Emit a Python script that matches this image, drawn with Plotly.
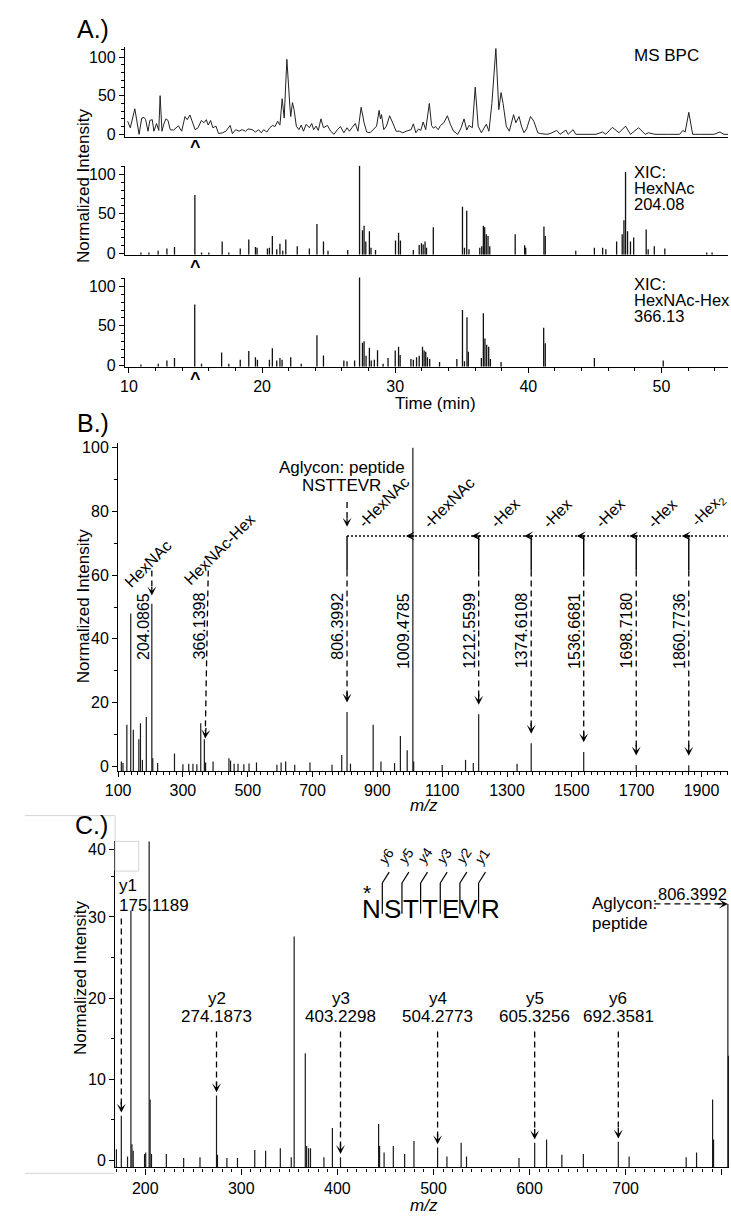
import plotly.graph_objects as go

W, H = 731, 1221
FONT = "Liberation Sans, Arial, Helvetica, sans-serif"


def PX(x):
    return x / W


def PY(y):
    return 1 - y / H


# ---------------- DATA ----------------
# Panel A: MS base peak chromatogram (time in min, normalized intensity)
BPC_TIME = [9.90, 10.10, 10.44, 10.64, 10.76, 10.96, 11.13, 11.25, 11.43, 11.57, 11.75, 11.87, 12.07, 12.24, 12.34,
            12.48, 12.61, 12.78, 12.93, 13.10, 13.35, 13.71, 13.96, 14.21, 14.38, 14.58, 14.77, 14.97, 15.19, 15.44,
            15.63, 15.81, 15.95, 16.13, 16.30, 16.54, 16.72, 17.04, 17.28, 17.60, 17.77, 18.02, 18.27, 18.51, 18.76,
            18.95, 19.25, 19.50, 19.74, 19.94, 20.11, 20.36, 20.60, 20.80, 20.97, 21.17, 21.34, 21.51, 21.66, 21.86,
            22.08, 22.15, 22.28, 22.40, 22.57, 22.77, 22.94, 23.11, 23.31, 23.55, 23.73, 23.87, 24.05, 24.22, 24.42,
            24.61, 24.91, 25.15, 25.40, 25.65, 25.89, 26.14, 26.38, 26.56, 26.75, 27.00, 27.20, 27.44, 27.66, 27.86,
            28.11, 28.35, 28.60, 28.79, 28.89, 28.97, 29.14, 29.34, 29.58, 29.83, 30.07, 30.32, 30.57, 30.82, 31.19,
            31.36, 31.55, 31.75, 31.92, 32.10, 32.29, 32.56, 32.73, 32.86, 33.03, 33.23, 33.40, 33.65, 33.92, 34.14,
            34.38, 34.70, 34.95, 35.17, 35.37, 35.54, 35.79, 36.01, 36.23, 36.47, 36.72, 36.84, 37.04, 37.26, 37.56,
            37.78, 37.95, 38.10, 38.34, 38.57, 38.89, 39.06, 39.30, 39.48, 39.67, 39.87, 40.16, 40.41, 40.71, 40.90,
            41.39, 41.64, 42.13, 42.38, 42.82, 42.99, 43.36, 43.56, 44.10, 45.08, 45.58, 45.82, 46.31, 46.81, 47.30,
            47.67, 48.28, 48.77, 49.02, 49.51, 50.50, 51.36, 51.60, 51.78, 52.05, 52.34, 52.96, 53.94, 54.39, 54.69,
            55.00]
BPC_INT = [17, 8.5, 33, 8.5, 0, 21, 22, 19, 4, 18, 19, 4, 14, 5, 50,
           4, 13, 20, 18, 6, 5.5, 11, 4, 23, 19, 25, 15, 6, 8.5, 18,
           15, 19, 12, 18, 8.5, 10.6, 1, 2, 4, 11.5, 1, 6, 4, 6, 4,
           7, 6, 3, 6, 2, 6, 3, 9, 11.5, 10, 17, 12, 46, 21, 97,
           38, 23, 41, 32, 10.6, 6, 12, 4, 13, 8.5, 14, 6, 10.6, 5, 20,
           8.5, 11.5, 4, 0, 6, 10, 2, 8.5, 4, 8.5, 14, 4, 35, 15, 3,
           2, 6, 10.6, 31, 20, 25.5, 6, 10.6, 24, 14, 4, 4, 2, 4, 6,
           13.6, 2, 7, 5, 16, 6, 40, 11.5, 8, 10, 6, 11.5, 15, 24, 13,
           4, 0, 8.5, 20, 5.5, 11.5, 8.5, 61, 10.6, 2, 8.5, 13, 4, 40, 111,
           32, 54, 40, 10.6, 4, 25.5, 15, 23, 10.6, 2, 7, 23, 17, 2, 1,
           0, 1, 5, 0, 5.5, 0, 6, 0, 0, 0, 3, 0, 9, 2, 10.6,
           0, 8.5, 0, 2, 0, 0, 0, 5, 3, 28.5, 0, 0, 0, 3, 0,
           0]

# Panel A: XIC HexNAc oxonium ion 204.08
XIC204_TIME = [10.9, 11.5, 12.19, 12.85, 13.42, 14.95, 15.45, 16.0, 17.0, 17.5, 18.36, 19.0, 19.5, 19.62, 20.4,
               20.55, 20.77, 21.1, 21.34, 21.55, 21.78, 22.64, 23.55, 24.12, 24.61, 24.95, 26.43, 27.32, 27.54,
               27.66, 27.79, 28.06, 28.18, 28.52, 30.02, 30.25, 30.39, 31.36, 31.8, 31.97, 32.1, 32.24, 32.35,
               32.86, 35.05, 35.2, 35.37, 35.54, 36.35, 36.5, 36.62, 36.72, 36.84, 36.97, 37.1, 39.01, 39.72,
               39.8, 41.17, 41.27, 43.56, 44.96, 45.58, 45.82, 46.63, 47.05, 47.18, 47.3, 47.45, 47.67, 47.91,
               48.85, 49.0, 49.46, 50.25, 53.4, 53.8]
XIC204_INT = [1, 1, 3, 6, 8, 74, 1, 1, 15, 1, 6, 17.5, 8, 7, 6,
              7, 22, 5, 12, 3, 17.5, 9, 6, 37, 15, 3, 4, 111, 29,
              35, 15, 28, 7, 4, 16, 26, 16, 4, 10.4, 12.5, 11, 15, 7,
              33, 59, 7, 54, 5, 7, 9, 35, 33, 24, 22, 9, 24, 10,
              7, 34, 22, 3, 7, 7, 5, 15, 24, 42, 103, 28, 15, 20,
              30, 5, 9, 6, 1, 1]

# Panel A: XIC HexNAc-Hex oxonium ion 366.13
XIC366_TIME = [10.9, 12.2, 12.85, 13.42, 14.94, 15.45, 16.96, 17.5, 18.36, 19.0, 19.5, 19.65, 20.55, 20.77, 21.1,
               21.34, 21.5, 22.15, 22.94, 24.12, 24.61, 26.14, 26.38, 26.95, 27.32, 27.54, 27.66, 27.81, 28.06,
               28.2, 28.43, 28.67, 29.09, 29.46, 30.0, 30.25, 30.37, 31.18, 31.36, 31.6, 31.8, 32.05, 32.17,
               32.29, 32.42, 32.59, 33.33, 34.63, 35.05, 35.2, 35.39, 35.49, 36.47, 36.62, 36.74, 36.87, 37.02,
               37.15, 37.95, 41.15, 41.27, 44.96, 50.13]
XIC366_INT = [1, 2, 6, 9, 77, 2, 16, 2, 7, 18, 10, 7, 7, 21.5, 6,
              9, 7, 10, 2, 38, 12.4, 6, 5, 6, 112, 28.5, 30.5, 12, 22,
              6, 7, 19, 2, 9, 18.6, 23.5, 13, 8, 7, 10, 12, 23.5, 18.6,
              17, 10, 8, 4, 8, 70, 5, 61, 17, 9, 66, 34, 26, 23.5,
              8, 4, 47.5, 28, 9, 6]

# Panel B: glycopeptide MS/MS spectrum
B_MZ = [110, 115, 127, 139, 147, 164, 169, 175, 187, 204.0865, 207, 222, 274, 300, 318, 331, 343, 355, 366.1398, 370,
        393, 442, 447, 458, 470, 488, 504, 527, 590, 603, 617, 645, 692, 760, 790, 806.3992, 817, 887, 911, 953,
        971, 992, 1009.4785, 1012, 1100, 1172, 1196, 1212.5599, 1331, 1374.6108, 1536.6681, 1698.7180, 1860.7736]
B_INT = [1.5, 1, 13, 48, 11.5, 8.5, 13.5, 2, 15.5, 51, 2.5, 1, 4, 0.6, 0.8, 0.8, 0.6, 13.5, 8.5, 1.2,
         1.5, 2.5, 1.8, 0.8, 0.8, 0.6, 0.9, 1.2, 0.5, 1.2, 1.5, 0.5, 1.2, 0.5, 3.5, 17, 0.8, 13, 1.5, 1,
         9.5, 5, 100, 1.5, 0.4, 2, 1, 16.3, 0.8, 7.2, 4.5, 0.4, 0.3]
B_OXONIUM_MZ = [204.0865, 366.1398]
B_OXONIUM_NAMES = ["HexNAc", "HexNAc-Hex"]
B_OXONIUM_LABELS = ["204.0865", "366.1398"]
B_LADDER_MZ = [806.3992, 1009.4785, 1212.5599, 1374.6108, 1536.6681, 1698.7180, 1860.7736]
B_LADDER_LABELS = ["806.3992", "1009.4785", "1212.5599", "1374.6108", "1536.6681", "1698.7180", "1860.7736"]
B_LOSS_LABELS = ["-HexNAc", "-HexNAc", "-Hex", "-Hex", "-Hex", "-Hex", "-Hex<sub>2</sub>"]

# Panel C: zoomed MS/MS with y ions
C_MZ = [170, 175.1189, 181.6, 185.1, 186.2, 187.5, 199.3, 200.5, 204.09, 205.09, 206.5, 222, 240, 257, 274.1873,
        275.2, 285, 296, 314, 325.3, 340.6, 352, 355, 366.6, 368, 370, 372, 386, 394.8, 403.2298,
        442.9, 443.9, 448.6, 458.2, 470, 479.7, 504.2773, 514, 528.8, 534.4, 589, 605.3256, 617.7, 633.6, 656,
        692.3581, 703.6, 763, 773.8, 790.5, 791.5, 806.3992, 807.0]
C_INT = [1.4, 5.5, 0.5, 30.8, 2.0, 1.2, 0.8, 1.0, 45, 7.5, 0.8, 0.8, 0.3, 0.4, 8.0,
         0.7, 0.3, 0.3, 1.3, 1.2, 1.5, 0.4, 27.6, 13.2, 1.8, 1.5, 1.5, 0.4, 4.0, 0.4,
         4.5, 1.8, 1.0, 1.8, 0.8, 2.4, 1.6, 0.5, 2.2, 0.5, 0.3, 2.2, 2.6, 0.7, 0.8,
         2.3, 0.5, 0.4, 1.0, 7.5, 2.6, 31.6, 12.9]
C_YION_MZ = [175.1189, 274.1873, 403.2298, 504.2773, 605.3256, 692.3581]
C_YION_NAMES = ["y1", "y2", "y3", "y4", "y5", "y6"]
C_YION_LABELS = ["175.1189", "274.1873", "403.2298", "504.2773", "605.3256", "692.3581"]
C_SEQUENCE = ["N", "S", "T", "T", "E", "V", "R"]
C_FRAG_NAMES = ["6", "5", "4", "3", "2", "1"]
C_AGLYCON_MZ = 806.3992
C_YTICK_TEXT = ["0", "10", "20", "30", "40"]

A_TICK_TEXT_TIME = [10, 20, 30, 40, 50]

# ---------------- LAYOUT CONSTANTS ----------------
A_XR = [9.7, 55.0]
A1_YR = [-3.2, 113.5]
A2_YR = [-1.9, 111.3]
A3_YR = [-1.9, 111.3]
B_XR = [100, 1982]
B_YR = [-1.5, 101.5]
C_XR = [168.7, 807.6]
C_YR = [-0.85, 39.3]
C_YTICK_POS = [0, 10, 20, 30, 38.3]

DASH = "6px,4px"
LADDER_LEVEL = 72.3
SOLID_LOW = 61.5

fig = go.Figure()


def sticks(xs, ys, base):
    X, Y = [], []
    for x, y in zip(xs, ys):
        X += [x, x, None]
        Y += [base, y, None]
    return X, Y


def add_line_trace(x, y, xa, ya, color="#111", width=1.2):
    fig.add_trace(go.Scatter(x=x, y=y, mode="lines", line=dict(color=color, width=width),
                             xaxis=xa, yaxis=ya, hoverinfo="skip", showlegend=False))


add_line_trace(BPC_TIME, BPC_INT, "x", "y", color="#222", width=1.0)
add_line_trace(*sticks(XIC204_TIME, XIC204_INT, A2_YR[0]), "x2", "y2", width=1.3)
add_line_trace(*sticks(XIC366_TIME, XIC366_INT, A3_YR[0]), "x3", "y3", width=1.3)
add_line_trace(*sticks(B_MZ, B_INT, B_YR[0]), "x4", "y4", color="#1a1a1a", width=1.2)
add_line_trace(*sticks(C_MZ, C_INT, C_YR[0]), "x5", "y5", color="#1a1a1a", width=1.2)


def axis(**kw):
    d = dict(showline=True, linecolor="black", linewidth=1.2, showgrid=False, zeroline=False,
             ticks="outside", tickcolor="black", tickwidth=1.1, ticklen=5,
             tickfont=dict(size=16, family=FONT, color="black"), fixedrange=True)
    d.update(kw)
    return d


MINOR = dict(ticks="outside", ticklen=3, tickcolor="black", tickwidth=1)

layout = dict(
    width=W, height=H, margin=dict(l=0, r=0, t=0, b=0),
    paper_bgcolor="white", plot_bgcolor="white", showlegend=False,
    font=dict(family=FONT, color="black"),
    xaxis=axis(domain=[PX(114), PX(728)], range=A_XR, anchor="y", ticks="", showticklabels=False),
    yaxis=axis(domain=[PY(134), PY(43)], range=A1_YR, anchor="x", tick0=0, dtick=50,
               minor=dict(dtick=10, tick0=0, **MINOR)),
    xaxis2=axis(domain=[PX(114), PX(728)], range=A_XR, anchor="y2", ticks="", showticklabels=False),
    yaxis2=axis(domain=[PY(253), PY(163)], range=A2_YR, anchor="x2", tick0=0, dtick=50,
                minor=dict(dtick=10, tick0=0, **MINOR)),
    xaxis3=axis(domain=[PX(114), PX(728)], range=A_XR, anchor="y3", tickmode="array",
                tickvals=A_TICK_TEXT_TIME, ticktext=[str(v) for v in A_TICK_TEXT_TIME],
                minor=dict(dtick=2, tick0=0, **MINOR)),
    yaxis3=axis(domain=[PY(366), PY(276)], range=A3_YR, anchor="x3", tick0=0, dtick=50,
                minor=dict(dtick=10, tick0=0, **MINOR)),
    xaxis4=axis(domain=[PX(107), PX(728)], range=B_XR, anchor="y4", tick0=100, dtick=200,
                minor=dict(dtick=20, tick0=100, **MINOR)),
    yaxis4=axis(domain=[PY(774), PY(443)], range=B_YR, anchor="x4", tick0=0, dtick=20,
                minor=dict(dtick=10, tick0=0, **MINOR)),
    xaxis5=axis(domain=[PX(104), PX(729)], range=C_XR, anchor="y5", tick0=0, dtick=100, ticklen=6,
                minor=dict(dtick=10, tick0=0, **MINOR)),
    yaxis5=axis(domain=[PY(1174), PY(845)], range=C_YR, anchor="x5", tickmode="array",
                tickvals=C_YTICK_POS, ticktext=C_YTICK_TEXT,
                minor=dict(tickmode="array", tickvals=[5, 15, 25, 35], **MINOR)),
)

ann = []
shapes = []


def T(text, x, y, size=17, xanchor="center", yanchor="middle", angle=0, xref="paper", yref="paper", **kw):
    if xref == "paper":
        x = PX(x)
    if yref == "paper":
        y = PY(y)
    ann.append(dict(text=text, x=x, y=y, xref=xref, yref=yref, xanchor=xanchor, yanchor=yanchor,
                    textangle=angle, showarrow=False,
                    font=dict(size=size, family=kw.pop("family", FONT), color="black"), **kw))


def HEAD(x, y, xref, yref, ax=0, ay=-12, xshift=0):
    ann.append(dict(x=x, y=y, xref=xref, yref=yref, ax=ax, ay=ay, text="", showarrow=True,
                    arrowhead=3, arrowsize=1.15, arrowwidth=1.3, arrowcolor="black", xshift=xshift))


def LINE(x0, y0, x1, y1, xref="paper", yref="paper", dash="solid", width=1.3, color="black"):
    if xref == "paper":
        x0, x1 = PX(x0), PX(x1)
    if yref == "paper":
        y0, y1 = PY(y0), PY(y1)
    shapes.append(dict(type="line", x0=x0, y0=y0, x1=x1, y1=y1, xref=xref, yref=yref,
                       line=dict(color=color, width=width, dash=dash)))


# ---------- Panel A texts ----------
T("A.)", 81, 25, size=25)
T("Normalized Intensity", 72, 183, angle=-90)
T("MS BPC", 630, 52, xanchor="left")
for txt, yy in zip(["XIC:", "HexNAc", "204.08"], [170, 186, 202]):
    T(txt, 631, yy, size=16.5, xanchor="left", borderpad=0)
for txt, yy in zip(["XIC:", "HexNAc-Hex", "366.13"], [283, 299, 315]):
    T(txt, 631, yy, size=16.5, xanchor="left", borderpad=0)
T("Time (min)", 430, 403)
for yy in [144, 265, 378]:
    T("<b>^</b>", 15.0, yy, size=18, xref="x")

# ---------- Panel B ----------
B_lookup = dict(zip(B_MZ, B_INT))
T("B.)", 81, 423, size=25)
T("Normalized Intensity", 72, 607, angle=-90)
T("<i>m/z</i>", 418, 809)

# oxonium ions
LINE(B_OXONIUM_MZ[0], 61.5, B_OXONIUM_MZ[0], 56, "x4", "y4", dash=DASH)
HEAD(B_OXONIUM_MZ[0], B_lookup[B_OXONIUM_MZ[0]] + 2.6, "x4", "y4", ay=-10)
LINE(B_OXONIUM_MZ[1] + 12, 61.5, B_OXONIUM_MZ[1] + 3, 11, "x4", "y4", dash=DASH)
HEAD(B_OXONIUM_MZ[1] + 2.4, B_lookup[B_OXONIUM_MZ[1]] + 0.2, "x4", "y4", ax=1, ay=-12)
T(B_OXONIUM_NAMES[0], 138, 565, size=16, angle=-45)
T(B_OXONIUM_NAMES[1], 210, 550, size=16, angle=-45)
T(B_OXONIUM_LABELS[0], B_OXONIUM_MZ[0], 592, size=16, angle=-90, xref="x4", yanchor="top", xshift=-9)
T(B_OXONIUM_LABELS[1], B_OXONIUM_MZ[1] + 12, 592, size=16, angle=-90, xref="x4", yanchor="top", xshift=-9)

# aglycon and ladder
T("Aglycon: peptide", 335, 468)
T("NSTTEVR", 334, 486)
LINE(B_LADDER_MZ[0], 83, B_LADDER_MZ[0], 77.5, "x4", "y4", dash=DASH)
HEAD(B_LADDER_MZ[0], 75.2, "x4", "y4", ay=-10)
LINE(B_LADDER_MZ[0], LADDER_LEVEL, B_XR[1], LADDER_LEVEL, "x4", "y4", dash="2px,2px", width=1.5)
for i, mz in enumerate(B_LADDER_MZ):
    inten = B_lookup[mz]
    T(B_LADDER_LABELS[i], mz, 592, size=16, angle=-90, xref="x4", yanchor="top", xshift=-9.5)
    last = i == len(B_LADDER_MZ) - 1
    T(B_LOSS_LABELS[i], mz, LADDER_LEVEL, size=15.5 if last else 16, angle=-45, xref="x4", yref="y4",
      xanchor="left", yanchor="bottom", xshift=-4 if last else 5, yshift=2)
    if i > 0:
        HEAD(mz, LADDER_LEVEL, "x4", "y4", ax=10, ay=0, xshift=-7)
    if inten >= LADDER_LEVEL:
        continue
    tip = max(inten + 3, 2.3)
    LINE(mz, LADDER_LEVEL, mz, SOLID_LOW, "x4", "y4", width=1.4)
    LINE(mz, SOLID_LOW, mz, tip + 1.5, "x4", "y4", dash=DASH)
    HEAD(mz, tip, "x4", "y4", ay=-12)
HEAD(B_XR[1], LADDER_LEVEL, "x4", "y4", ax=10, ay=0, xshift=-4)

# ---------- Panel C ----------
C_lookup = dict(zip(C_MZ, C_INT))
T("C.)", 80, 828, size=25)
T("Normalized Intensity", 68, 982, angle=-90)
T("<i>m/z</i>", 418, 1212)

# light gray editing artifacts of the original
LINE(12, 819, 104, 819, color="#d4d4d4", width=1)
LINE(104, 819, 104, 845, color="#d4d4d4", width=1)
shapes.append(dict(type="rect", xref="paper", yref="paper", x0=PX(104), x1=PX(128), y0=PY(875), y1=PY(845),
                   line=dict(color="#d4d4d4", width=1)))
LINE(12, 1180, 103, 1180, color="#d4d4d4", width=1)

# y ions
for i, mz in enumerate(C_YION_MZ):
    peak = C_lookup[mz]
    if i == 0:
        T(C_YION_NAMES[i], 106, 890, xanchor="left")
        T(C_YION_LABELS[i], 106, 910, xanchor="left")
        LINE(mz, 29.8, mz, peak + 1.2, "x5", "y5", dash=DASH)
    else:
        T(C_YION_NAMES[i], mz, 20.0, xref="x5", yref="y5")
        T(C_YION_LABELS[i], mz, 17.75, xref="x5", yref="y5")
        LINE(mz, 15.9, mz, peak + 1.3, "x5", "y5", dash=DASH)
    HEAD(mz, peak + 0.4, "x5", "y5", ay=-12)

# peptide sequence with fragment brackets
SEQ_X = [364.5, 386, 405.5, 425, 445, 464.5, 486.5]
BAR_X = [376, 396, 415, 435, 455, 474]
for letter, xx in zip(C_SEQUENCE, SEQ_X):
    T(letter, xx, 913, size=26)
T("*", 360, 897, size=21, borderpad=0)
for bx, nm in zip(BAR_X, C_FRAG_NAMES):
    LINE(bx, 918, bx, 887, width=1.2)
    LINE(bx, 887, bx + 7, 876, width=1.2)
    T("<i>y</i>" + nm, bx + 4, 860, size=14, angle=-55)

# aglycon arrow
agly = C_lookup[C_AGLYCON_MZ]
T("Aglycon:", 587, 908, xanchor="left")
T("peptide", 587, 928, xanchor="left")
T("806.3992", 729, 898, size=16.5, xanchor="right")
LINE(730, agly, C_AGLYCON_MZ - 6, agly, "x5", "y5", dash=DASH)
HEAD(C_AGLYCON_MZ, agly, "x5", "y5", ax=-12, ay=0)

layout["annotations"] = ann
layout["shapes"] = shapes
fig.update_layout(**layout)
fig.write_html("out.html")
